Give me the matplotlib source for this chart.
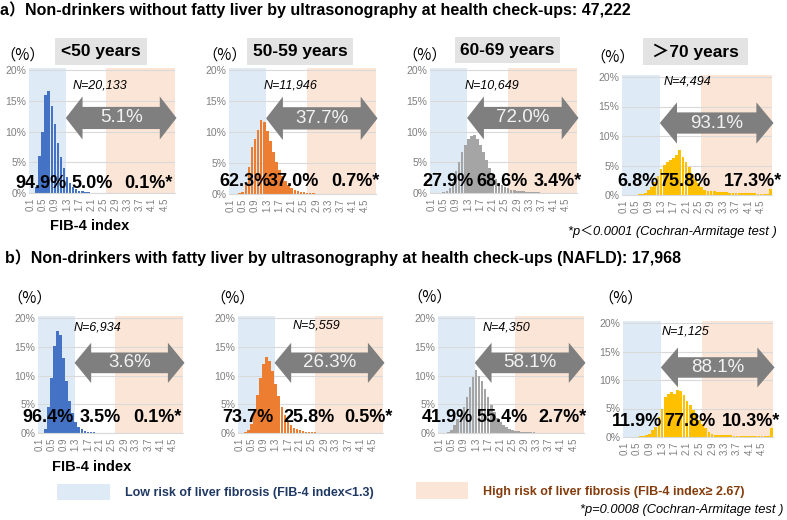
import matplotlib
matplotlib.use("Agg")
import matplotlib.pyplot as plt
from matplotlib.patches import Polygon, Rectangle

plt.rcParams['font.family'] = ['Liberation Sans', 'Noto Sans CJK JP', 'DejaVu Sans']

# FIB-4 index categories 0.1 ... 4.8
fib4_bins = [f"{i / 10:.1f}" for i in range(1, 49)]
tick_every = 4

age_groups = ["<50 years", "50-59 years", "60-69 years", "＞70 years"]
bar_colors = ['#4472c4', '#ed7d31', '#a5a5a5', '#ffc000']

# a) without fatty liver  (% of subjects per FIB-4 bin)
a_lt50 = [0, 0.05, 1.0, 6.0, 10.0, 16.0, 16.6, 14.2, 11.2, 8.2, 5.8, 4.0,
          2.6, 1.6, 1.0, 0.6, 0.4, 0.25, 0.15, 0.1, 0.08, 0.06, 0.05, 0.04,
          0.03, 0.02, 0.02, 0.01, 0.01, 0.01, 0, 0, 0, 0, 0, 0,
          0, 0, 0, 0, 0, 0, 0, 0, 0, 0, 0, 0]
a_50s = [0, 0, 0, 0.1, 0.4, 1.7, 4.4, 7.6, 8.9, 10.4, 12.0, 11.6,
         10.2, 8.5, 6.8, 5.2, 3.9, 2.9, 2.1, 1.5, 1.0, 0.7, 0.5, 0.35,
         0.25, 0.18, 0.12, 0.09, 0.07, 0.06, 0.05, 0.04, 0.04, 0.03, 0.03, 0.02,
         0.02, 0.02, 0.02, 0.01, 0.01, 0.01, 0.01, 0.01, 0.01, 0.01, 0.01, 0.03]
a_60s = [0, 0, 0, 0.05, 0.1, 0.3, 0.8, 1.8, 3.5, 5.0, 6.6, 7.8,
         8.7, 9.3, 9.4, 8.8, 7.8, 6.6, 5.3, 4.1, 3.1, 2.3, 1.7, 1.3,
         1.0, 0.75, 0.55, 0.45, 0.37, 0.3, 0.25, 0.2, 0.17, 0.14, 0.12, 0.1,
         0.08, 0.07, 0.06, 0.05, 0.04, 0.04, 0.03, 0.03, 0.03, 0.02, 0.02, 0.06]
a_70s = [0, 0, 0, 0, 0.05, 0.1, 0.2, 0.4, 0.8, 1.4, 2.2, 3.3,
         4.4, 5.1, 5.6, 6.0, 6.3, 6.8, 7.6, 6.4, 5.6, 4.8, 3.6, 2.7,
         2.0, 1.4, 0.8, 0.7, 0.6, 0.6, 0.5, 0.5, 0.5, 0.45, 0.4, 0.4,
         0.4, 0.35, 0.35, 0.3, 0.3, 0.3, 0.3, 0.25, 0.25, 0.25, 0.2, 1.0]

# b) with fatty liver (NAFLD)
b_lt50 = [0, 0.05, 0.7, 4.6, 9.6, 15.2, 17.8, 17.0, 13.0, 9.0, 5.6, 3.4,
          1.9, 1.1, 0.7, 0.4, 0.25, 0.15, 0.1, 0.07, 0.05, 0.04, 0.03, 0.02,
          0.02, 0.01, 0.01, 0.01, 0, 0, 0, 0, 0, 0, 0, 0,
          0, 0, 0, 0, 0, 0, 0, 0, 0, 0, 0, 0]
b_50s = [0, 0, 0.1, 0.5, 1.5, 3.6, 6.6, 9.6, 12.0, 13.2, 12.6, 10.8,
         8.6, 6.4, 4.5, 3.1, 2.1, 1.4, 0.95, 0.65, 0.45, 0.32, 0.22, 0.16,
         0.12, 0.1, 0.08, 0.06, 0.05, 0.04, 0.03, 0.03, 0.02, 0.02, 0.02, 0.01,
         0.01, 0.01, 0.01, 0.01, 0, 0, 0, 0, 0, 0, 0, 0.02]
b_60s = [0, 0, 0, 0.2, 0.6, 1.4, 2.4, 3.5, 4.6, 6.2, 8.0, 9.7,
         11.0, 10.0, 9.0, 7.6, 6.2, 4.8, 3.6, 2.6, 1.9, 1.4, 1.0, 0.75,
         0.55, 0.42, 0.33, 0.26, 0.2, 0.16, 0.13, 0.1, 0.08, 0.07, 0.06, 0.05,
         0.04, 0.04, 0.03, 0.03, 0.03, 0.02, 0.02, 0.02, 0.02, 0.02, 0.02, 0.05]
b_70s = [0, 0, 0, 0, 0.05, 0.1, 0.15, 0.3, 0.6, 1.2, 1.8, 3.5,
         5.0, 7.0, 7.6, 7.9, 7.6, 8.2, 8.0, 7.4, 6.4, 5.6, 4.7, 3.8,
         3.0, 2.2, 1.5, 0.9, 0.5, 0.4, 0.4, 0.35, 0.3, 0.3, 0.3, 0.25,
         0.25, 0.2, 0.2, 0.2, 0.2, 0.15, 0.15, 0.15, 0.15, 0.1, 0.1, 1.5]

a_n = ["N=20,133", "N=11,946", "N=10,649", "N=4,494"]
b_n = ["N=6,934", "N=5,559", "N=4,350", "N=1,125"]
a_arrow = ["5.1%", "37.7%", "72.0%", "93.1%"]
b_arrow = ["3.6%", "26.3%", "58.1%", "88.1%"]
a_low = ["94.9%", "62.3%", "27.9%", "6.8%"]
a_mid = ["5.0%", "37.0%", "68.6%", "75.8%"]
a_high = ["0.1%*", "0.7%*", "3.4%*", "17.3%*"]
b_low = ["96.4%", "73.7%", "41.9%", "11.9%"]
b_mid = ["3.5%", "25.8%", "55.4%", "77.8%"]
b_high = ["0.1%*", "0.5%*", "2.7%*", "10.3%*"]

low_cut = 11.6    # FIB-4 < 1.3
high_cut = 24.9   # FIB-4 >= 2.67

W, H = 787, 520
fig = plt.figure(figsize=(W / 100, H / 100), dpi=100)


def fx(x):
    return x / W


def fy(y):
    return 1 - y / H


YMAX = 20.4


def make_axes(x0, x1, y20, y0):
    top = y0 - (y0 - y20) * YMAX / 20
    return fig.add_axes([fx(x0), fy(y0), (x1 - x0) / W, (y0 - top) / H])


def double_arrow(ax, x0, x1, yc, hh=3.5, sh=1.8, hl=5.5):
    pts = [(x0, yc), (x0 + hl, yc + hh), (x0 + hl, yc + sh), (x1 - hl, yc + sh),
           (x1 - hl, yc + hh), (x1, yc), (x1 - hl, yc - hh), (x1 - hl, yc - sh),
           (x0 + hl, yc - sh), (x0 + hl, yc - hh)]
    ax.add_patch(Polygon(pts, closed=True, fc='#7f7f7f', ec='none',
                         zorder=4, clip_on=False))


def panel(rect, vals, color, arrow_txt):
    ax = make_axes(*rect)
    xs = list(range(len(fib4_bins)))
    ax.axvspan(-0.5, low_cut, color='#deebf7', zorder=0.2, lw=0)
    ax.axvspan(high_cut, len(fib4_bins) - 0.5, color='#fbe5d6', zorder=0.2, lw=0)
    ax.bar(xs, vals, width=0.85, color=color, zorder=2)
    ax.set_xlim(-0.5, len(fib4_bins) - 0.5)
    ax.set_ylim(0, YMAX)
    ax.set_yticks([0, 5, 10, 15, 20])
    ax.set_yticklabels([f"{v}%" for v in [0, 5, 10, 15, 20]])
    ax.set_xticks(xs[::tick_every])
    ax.set_xticklabels(fib4_bins[::tick_every], rotation=90)
    ax.tick_params(length=0, labelsize=7.5, colors='#7f7f7f', pad=2)
    ax.tick_params(axis='x', labelsize=7, pad=3)
    ax.yaxis.grid(True, color='#d9d9d9', lw=0.8)
    ax.set_axisbelow(True)
    for s in ['top', 'right', 'left']:
        ax.spines[s].set_visible(False)
    ax.spines['bottom'].set_color('#d9d9d9')
    xa, xb = low_cut, len(fib4_bins)
    double_arrow(ax, xa, xb, 12.2)
    ax.text((xa + xb) / 2, 12.2, arrow_txt, ha='center', va='center',
            fontsize=13.5, color='#f2f2f2', zorder=5)
    return ax


top_rects = [(29, 175, 70, 193), (229, 376, 70, 194), (430, 577, 70, 193), (622, 772, 77, 195)]
bot_rects = [(38, 183, 318, 433), (238, 383, 318, 433), (438, 584, 318, 433), (623, 773, 323, 437)]

for i, vals in enumerate([a_lt50, a_50s, a_60s, a_70s]):
    panel(top_rects[i], vals, bar_colors[i], a_arrow[i])
for i, vals in enumerate([b_lt50, b_50s, b_60s, b_70s]):
    panel(bot_rects[i], vals, bar_colors[i], b_arrow[i])

# section titles
fig.text(fx(0), fy(10), "a）Non-drinkers without fatty liver by ultrasonography at health check-ups: 47,222",
         fontsize=11.5, fontweight='bold', ha='left', va='center')
fig.text(fx(5), fy(258), "b）Non-drinkers with fatty liver by ultrasonography at health check-ups (NAFLD): 17,968",
         fontsize=11.5, fontweight='bold', ha='left', va='center')

# age boxes (top row)
boxes = [(55, 147, 38, 65), (247, 353, 38, 65), (455, 560, 37, 63), (643, 748, 38, 65)]
for (x0, x1, y0, y1), lab in zip(boxes, age_groups):
    fig.patches.append(Rectangle((fx(x0), fy(y1)), (x1 - x0) / W, (y1 - y0) / H,
                                 transform=fig.transFigure, fc='#e3e3e3', ec='none'))
    fig.text(fx((x0 + x1) / 2), fy((y0 + y1) / 2), lab, fontsize=12.5, fontweight='bold',
             ha='center', va='center')

# (%) labels
for x, y in [(0, 55), (202, 55), (402, 55), (590, 57), (7, 298), (210, 298), (407, 297), (598, 298)]:
    fig.text(fx(x), fy(y), "（%）", fontsize=11, ha='left', va='center',
             family=['Noto Sans CJK JP', 'DejaVu Sans'])

# N labels
n_pos = [(100, 85), (291, 85), (492, 85), (687, 82), (97, 328), (316, 325), (506, 327), (685, 332)]
for (x, y), lab in zip(n_pos, a_n + b_n):
    fig.text(fx(x), fy(y), lab, fontsize=9, style='italic', ha='center', va='center')

# percentage labels per risk zone
pct_pos = [(15, 92, 173, 183), (219, 293, 380, 182), (422, 502, 582, 182), (617, 685, 782, 182),
           (22, 100, 182, 418), (222, 309, 393, 418), (422, 502, 587, 418), (612, 690, 780, 422)]
for (xl, xm, xr, y), lo, mi, hi in zip(pct_pos, a_low + b_low, a_mid + b_mid, a_high + b_high):
    kw = dict(fontsize=13, fontweight='bold', va='center', zorder=10)
    fig.text(fx(xl), fy(y), lo, ha='left', **kw)
    fig.text(fx(xm), fy(y), mi, ha='center', **kw)
    fig.text(fx(xr), fy(y), hi, ha='right', **kw)

fig.text(fx(50), fy(226), "FIB-4 index", fontsize=10.5, fontweight='bold', ha='left', va='center')
fig.text(fx(52), fy(467), "FIB-4 index", fontsize=10.5, fontweight='bold', ha='left', va='center')

fig.text(fx(777), fy(232), "*p＜0.0001 (Cochran-Armitage test )", fontsize=9.3, style='italic',
         ha='right', va='center')
fig.text(fx(783), fy(510), "*p=0.0008 (Cochran-Armitage test )", fontsize=9.3, style='italic',
         ha='right', va='center')

# legend
fig.patches.append(Rectangle((fx(57), fy(500)), 53 / W, 16 / H, transform=fig.transFigure,
                             fc='#deebf7', ec='none'))
fig.text(fx(125), fy(493), "Low risk of liver fibrosis (FIB-4 index<1.3)", fontsize=9,
         fontweight='bold', color='#1f3864', ha='left', va='center')
fig.patches.append(Rectangle((fx(416), fy(499)), 52 / W, 17 / H, transform=fig.transFigure,
                             fc='#fbe5d6', ec='none'))
fig.text(fx(483), fy(492), "High risk of liver fibrosis (FIB-4 index≥ 2.67)", fontsize=9,
         fontweight='bold', color='#843c0c', ha='left', va='center')

fig.savefig("out.png", dpi=100)
